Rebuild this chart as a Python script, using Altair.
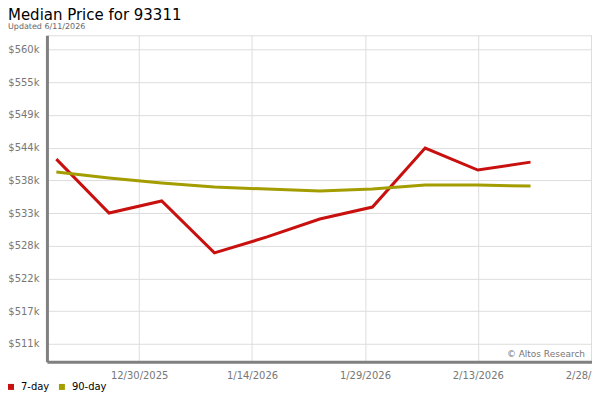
import altair as alt
import pandas as pd

dates = ["2025-12-19", "2025-12-26", "2026-01-02", "2026-01-09", "2026-01-16",
         "2026-01-23", "2026-01-30", "2026-02-06", "2026-02-13", "2026-02-20"]
seven_day = [541920, 532980, 534970, 526360, 529010, 531990, 533970, 543740, 540100, 541420]
ninety_day = [539770, 538770, 537950, 537280, 536950, 536620, 536950, 537610, 537610, 537450]
series_names = ["7-day", "90-day"]
series_colors = ["#c8100e", "#a39d00"]
y_ticks = [511300, 516720, 522140, 527560, 532980, 538400, 543820, 549240, 554660, 560080]
x_ticks = ["2025-12-30", "2026-01-14", "2026-01-29", "2026-02-13", "2026-02-28"]

rows = []
for d, v in zip(dates, seven_day):
    rows.append({"date": d + "T00:00:00", "value": v, "series": series_names[0]})
for d, v in zip(dates, ninety_day):
    rows.append({"date": d + "T00:00:00", "value": v, "series": series_names[1]})
df = pd.DataFrame(rows)

def dt(s, h=0):
    y, m, d = [int(p) for p in s.split("-")]
    return alt.DateTime(year=y, month=m, date=d, hours=h)

x_enc = alt.X(
    "date:T",
    title=None,
    scale=alt.Scale(domain=[dt("2025-12-17", 18), dt("2026-02-28", 4)]),
    axis=alt.Axis(
        values=[dt(s) for s in x_ticks],
        format="%-m/%-d/%Y",
        labelColor="#777777",
        labelFontSize=10,
        labelFont="DejaVu Sans",
        ticks=False,
        labelPadding=9,
        domainColor="#808080",
        domainWidth=3,
        gridColor="#dddddd",
        gridWidth=1,
        labelFlush=False,
        labelOverlap=False,
    ),
)
y_enc = alt.Y(
    "value:Q",
    title=None,
    scale=alt.Scale(domain=[508320, 562450], nice=False, zero=False),
    axis=alt.Axis(
        values=y_ticks,
        labelExpr='"$" + format(datum.value / 1000, ".0f") + "k"',
        labelColor="#777777",
        labelFontSize=10,
        labelFont="DejaVu Sans",
        ticks=False,
        labelPadding=8,
        domainColor="#808080",
        domainWidth=3,
        gridColor="#dddddd",
        gridWidth=1,
    ),
)

lines = alt.Chart(df).mark_line(strokeWidth=3).encode(
    x=x_enc,
    y=y_enc,
    color=alt.Color(
        "series:N",
        scale=alt.Scale(domain=series_names, range=series_colors),
        legend=alt.Legend(
            title=None,
            orient="none",
            legendX=-41,
            legendY=347,
            direction="horizontal",
            symbolType="square",
            symbolSize=9,
            symbolStrokeWidth=3,
            labelFontSize=10,
            labelFont="DejaVu Sans",
            labelColor="#000000",
            labelOffset=5,
            columnPadding=4,
        ),
    ),
)

credit = alt.Chart(pd.DataFrame({"t": ["\u00a9 Altos Research"]})).mark_text(
    align="right", baseline="middle", fontSize=9, font="DejaVu Sans", color="#777777"
).encode(x=alt.value(539), y=alt.value(319), text="t:N")

chart = alt.layer(lines, credit).properties(
    width=546,
    height=327,
    autosize=alt.AutoSizeParams(type="none"),
    padding={"left": 39, "top": 27, "right": 0, "bottom": 30},
    title=alt.TitleParams(
        text="Median Price for 93311",
        subtitle="Updated 6/11/2026",
        anchor="start",
        frame="group",
        dx=-39,
        dy=2,
        fontSize=15,
        font="DejaVu Sans",
        fontWeight="normal",
        color="#000000",
        subtitleFontSize=8,
        subtitleFont="DejaVu Sans",
        subtitleColor="#666666",
        subtitlePadding=0,
        offset=6,
    ),
).configure_view(stroke="#dddddd", strokeWidth=1)

chart.save("out.html", embed_options={"renderer": "svg", "actions": False})
